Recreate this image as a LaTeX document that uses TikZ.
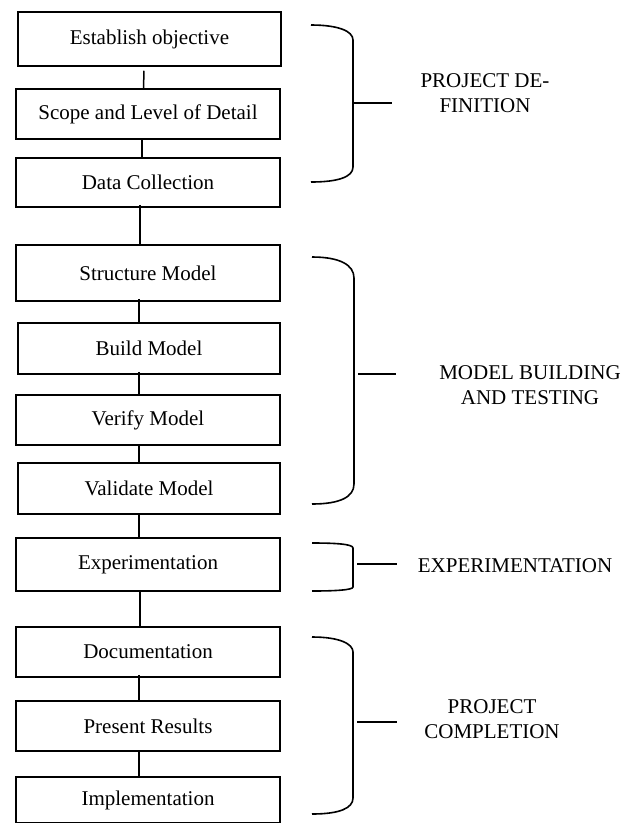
\documentclass[tikz,border=0pt]{standalone}
\usepackage{fontspec}
\setmainfont{Liberation Serif}
\begin{document}
\begin{tikzpicture}[x=1pt,y=-1pt,
  stepbox/.style={draw,line width=1.5pt,minimum width=264pt,inner sep=0pt,font=\fontsize{21}{24}\selectfont},
  conn/.style={line width=1.5pt},
  brace/.style={line width=1.6pt},
  grouplabel/.style={align=center,inner sep=0pt,font=\fontsize{21}{25}\selectfont}]
\useasboundingbox (0,0) rectangle (634,823);
% boxes
\node[stepbox,minimum width=263pt,minimum height=54pt] (est) at (149.5,39) {Establish objective};
\node[stepbox,minimum height=50pt] (scope) at (148,114) {Scope and Level of Detail};
\node[stepbox,minimum height=49pt] (data) at (148,182.5) {Data Collection};
\node[stepbox,minimum height=56pt] (struct) at (148,273) {Structure Model};
\node[stepbox,minimum width=262pt,minimum height=51pt] (build) at (149,348.5) {Build Model};
\node[stepbox,minimum height=50pt] (verify) at (148,420) {Verify Model};
\node[stepbox,minimum width=262pt,minimum height=51pt] (valid) at (149,488.5) {Validate Model};
\node[stepbox,minimum height=53pt] (exp) at (148,564.5) {Experimentation};
\node[stepbox,minimum height=50pt] (doc) at (148,652) {Documentation};
\node[stepbox,minimum height=50pt] (pres) at (148,726) {Present Results};
\node[stepbox,minimum height=46pt] (impl) at (148,800) {Implementation};
% connectors
\draw[conn] ([xshift=-5.5pt,yshift=-4pt]est.south) -- ([xshift=-4.5pt]scope.north);
\draw[conn] ([xshift=-6pt]scope.south) -- ([xshift=-6pt]data.north);
\draw[conn] ([xshift=-8pt,yshift=3pt]data.south) -- ([xshift=-8pt]struct.north);
\draw[conn] ([xshift=-9pt,yshift=3pt]struct.south) -- ([xshift=-10pt]build.north);
\draw[conn] ([xshift=-10pt,yshift=3pt]build.south) -- ([xshift=-9pt]verify.north);
\draw[conn] ([xshift=-9pt]verify.south) -- ([xshift=-10pt]valid.north);
\draw[conn] ([xshift=-10pt]valid.south) -- ([xshift=-9pt]exp.north);
\draw[conn] ([xshift=-8pt]exp.south) -- ([xshift=-8pt]doc.north);
\draw[conn] ([xshift=-9pt,yshift=3pt]doc.south) -- ([xshift=-9pt]pres.north);
\draw[conn] ([xshift=-9pt]pres.south) -- ([xshift=-9pt]impl.north);
% brackets
\draw[brace] (311,25) .. controls (338,25) and (353,31) .. (353,40) -- (353,167) .. controls (353,177) and (338,182) .. (311,182);
\draw[brace] (353,103) -- (392,103);
\draw[brace] (312,257) .. controls (340,257) and (354,265) .. (354,278) -- (354,484) .. controls (354,497) and (340,504) .. (312,504);
\draw[brace] (358,374) -- (396,374);
\draw[brace] (312,543) .. controls (335,543) and (353,544) .. (353,548) -- (353,587) .. controls (353,590) and (335,591) .. (312,591);
\draw[brace] (357,564) -- (397,564);
\draw[brace] (312,637) .. controls (340,637) and (353,644) .. (353,652) -- (353,798) .. controls (353,808) and (340,814) .. (312,814);
\draw[brace] (357,722) -- (397,722);
% labels
\node[grouplabel] (pdef) at (485,93) {PROJECT DE-\\FINITION};
\node[grouplabel] (mbt) at (530,385) {MODEL BUILDING\\AND TESTING};
\node[grouplabel] (expl) at (515,566) {EXPERIMENTATION};
\node[grouplabel] (pcomp) at (492,719) {PROJECT\\COMPLETION};
\end{tikzpicture}
\end{document}
